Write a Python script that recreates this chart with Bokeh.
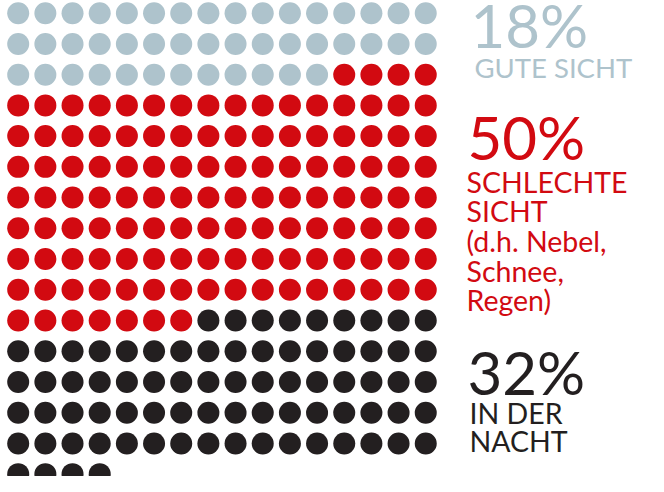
from bokeh.plotting import figure
from bokeh.models import Range1d, ColumnDataSource
from bokeh.embed import file_html
from bokeh.resources import INLINE
from bokeh.core.properties import value

# ---- data ----
categories = ["GUTE SICHT", "SCHLECHTE SICHT", "IN DER NACHT"]
counts = [44, 123, 77]
percent_labels = ["18%", "50%", "32%"]
label_lines = [
    ["GUTE SICHT"],
    ["SCHLECHTE", "SICHT", "(d.h. Nebel,", "Schnee,", "Regen)"],
    ["IN DER", "NACHT"],
]
colors = ["#AEC3CC", "#D20A11", "#231F20"]
n_cols = 16

# ---- layout constants (screen px in figure space) ----
W, H = 648, 476
X0, DX = 17.7, 27.17
Y0, DY = 12.7, 30.73
DOT = 22

xs, ys, cs = [], [], []
i = 0
for cnt, col in zip(counts, colors):
    for _ in range(cnt):
        c, r = i % n_cols, i // n_cols
        xs.append(X0 + c * DX)
        ys.append(Y0 + r * DY)
        cs.append(col)
        i += 1

p = figure(width=W, height=H, x_range=Range1d(0, W), y_range=Range1d(H, 0),
           toolbar_location=None, output_backend="svg", min_border=0,
           outline_line_color=None, background_fill_color="white")
p.axis.visible = False
p.grid.visible = False

p.scatter(x="x", y="y", color="c", size=DOT, line_color=None,
          source=ColumnDataSource(dict(x=xs, y=ys, c=cs)))

FONT = value("Lato")
BIG = 60
big_pos = [(470, 24), (467, 136), (467, 371)]
small_pos = [(474, 67.2, 27.5), (466, 181.3, 28.5), (469, 412.6, 28.5)]
line_h = [28, 29.65, 28]

for k in range(3):
    bx, by = big_pos[k]
    p.text(x=[bx], y=[by], text=[percent_labels[k]], text_font=FONT,
           text_font_size=value(f"{BIG}px"), text_baseline="alphabetic",
           text_color=colors[k])
    sx, sy, fs = small_pos[k]
    n = len(label_lines[k])
    p.text(x=[sx] * n, y=[sy + j * line_h[k] for j in range(n)],
           text=label_lines[k], text_font=FONT,
           text_font_size=value(f"{fs}px"), text_baseline="alphabetic",
           text_color=colors[k])

open("out.html", "w").write(file_html(p, INLINE))
